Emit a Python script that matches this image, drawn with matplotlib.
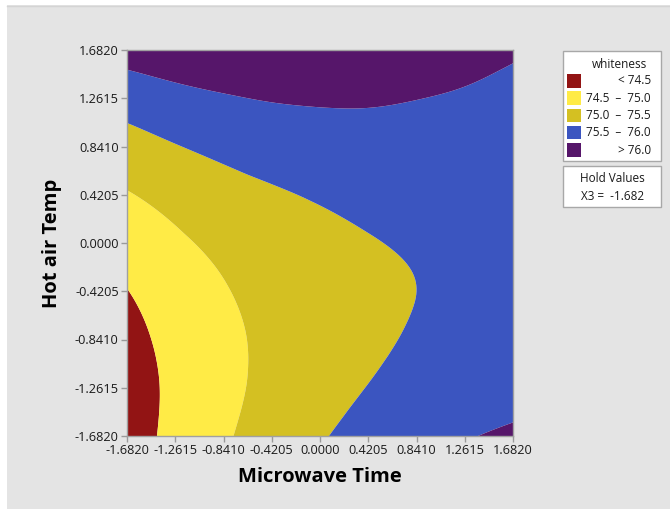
import numpy as np
import matplotlib.pyplot as plt
import matplotlib.tri as mtri
from matplotlib.patches import Rectangle

# coded factor levels (axial points +-1.682)
microwave_time = [-1.6820, -1.2615, -0.8410, -0.4205, 0.0000, 0.4205, 0.8410, 1.2615, 1.6820]
hot_air_temp = [-1.6820, -1.2615, -0.8410, -0.4205, 0.0000, 0.4205, 0.8410, 1.2615, 1.6820]

# predicted whiteness, one row per hot air temp level (bottom to top), X3 held at -1.682
whiteness = [
    [74.28, 74.63, 74.94, 75.22, 75.46, 75.66, 75.83, 75.97, 76.07],
    [74.28, 74.60, 74.88, 75.13, 75.34, 75.51, 75.65, 75.76, 75.83],
    [74.35, 74.64, 74.89, 75.11, 75.29, 75.43, 75.54, 75.62, 75.65],
    [74.49, 74.74, 74.97, 75.15, 75.30, 75.42, 75.50, 75.54, 75.55],
    [74.69, 74.92, 75.11, 75.27, 75.39, 75.48, 75.53, 75.54, 75.52],
    [74.97, 75.16, 75.33, 75.45, 75.54, 75.60, 75.62, 75.60, 75.55],
    [75.31, 75.48, 75.61, 75.71, 75.77, 75.79, 75.78, 75.74, 75.66],
    [75.72, 75.86, 75.96, 76.03, 76.06, 76.06, 76.01, 75.94, 75.83],
    [76.20, 76.31, 76.38, 76.42, 76.42, 76.39, 76.32, 76.21, 76.07],
]

levels = [74.5, 75.0, 75.5, 76.0]
band_labels = ['< 74.5', '74.5  \u2013  75.0', '75.0  \u2013  75.5', '75.5  \u2013  76.0', '> 76.0']
band_colors = ['#921414', '#ffeb46', '#d4c022', '#3b55c0', '#56166a']

plt.rcParams['font.family'] = ['Open Sans', 'DejaVu Sans']

W, H = 670, 509
fig = plt.figure(figsize=(W / 100, H / 100), dpi=100, facecolor='#e4e4e4')


def fx(px):
    return px / W


def fy(py):
    return 1 - py / H


# thin white margin on top and left, with a faint edge line
fig.patches.append(Rectangle((0, fy(5)), 1, 5 / H, transform=fig.transFigure,
                             facecolor='white', edgecolor='none'))
fig.patches.append(Rectangle((0, 0), fx(7), 1, transform=fig.transFigure,
                             facecolor='white', edgecolor='none'))
fig.lines.append(plt.Line2D([fx(7), 1], [fy(5.5), fy(5.5)], transform=fig.transFigure,
                            color='#d4d4d4', lw=1))

ax = fig.add_axes([fx(127), fy(436), 386 / W, 386 / H])
X, Y = np.meshgrid(microwave_time, hot_air_temp)
Z = np.array(whiteness)

# smooth the band edges with a cubic refinement of the grid triangulation
tri = mtri.Triangulation(X.ravel(), Y.ravel())
refiner = mtri.UniformTriRefiner(tri)
tri_f, z_f = refiner.refine_field(Z.ravel(), subdiv=4)
ax.tricontourf(tri_f, z_f, levels=[Z.min() - 1] + levels + [Z.max() + 1],
               colors=band_colors, antialiased=True)
ax.set_xlim(microwave_time[0], microwave_time[-1])
ax.set_ylim(hot_air_temp[0], hot_air_temp[-1])

ax.set_xticks(microwave_time)
ax.set_yticks(hot_air_temp)
ax.set_xticklabels([f'{v:.4f}' for v in microwave_time])
ax.set_yticklabels([f'{v:.4f}' for v in hot_air_temp])
ax.tick_params(direction='out', length=4, width=1, color='#9a9a9a',
               labelsize=9.2, labelcolor='#1a1a1a', pad=2)
for s in ax.spines.values():
    s.set_color('#a0a0a0')
    s.set_linewidth(1)

ax.set_xlabel('Microwave Time', fontsize=14.5, fontweight='bold', labelpad=7)
ax.set_ylabel('Hot air Temp', fontsize=14.5, fontweight='bold', labelpad=9)

# legend box
fig.patches.append(Rectangle((fx(563), fy(161)), fx(98), 110 / H, transform=fig.transFigure,
                             facecolor='white', edgecolor='#a8a8a8', lw=1))
fig.text(fx(619), fy(64), 'whiteness', ha='center', va='center', fontsize=8.5, color='#1a1a1a')
for i, (lab, col) in enumerate(zip(band_labels, band_colors)):
    top = 74 + i * 17.3
    fig.patches.append(Rectangle((fx(567), fy(top + 13.5)), fx(14), 13.5 / H,
                                 transform=fig.transFigure, facecolor=col, edgecolor='none'))
    cy = fy(top + 7)
    if lab.startswith(('<', '>')):
        fig.text(fx(651), cy, lab, ha='right', va='center', fontsize=8.5, color='#1a1a1a')
    else:
        fig.text(fx(586), cy, lab, ha='left', va='center', fontsize=8.5, color='#1a1a1a')

# hold values box
fig.patches.append(Rectangle((fx(563), fy(207)), fx(98), 41 / H, transform=fig.transFigure,
                             facecolor='white', edgecolor='#a8a8a8', lw=1))
fig.text(fx(612), fy(178), 'Hold Values', ha='center', va='center', fontsize=8.5, color='#1a1a1a')
fig.text(fx(581), fy(196), 'X3 =  -1.682', ha='left', va='center', fontsize=8.5, color='#1a1a1a')

fig.savefig('out.png', dpi=100, facecolor=fig.get_facecolor())
